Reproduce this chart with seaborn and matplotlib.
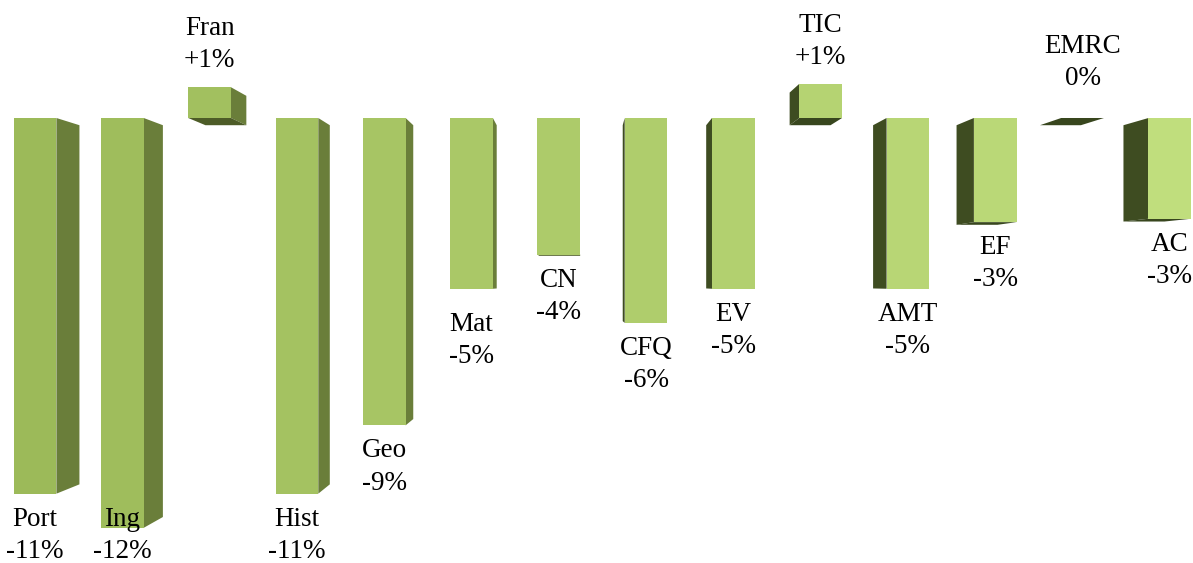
import numpy as np
import pandas as pd
import matplotlib
matplotlib.use("Agg")
import matplotlib.pyplot as plt
from matplotlib.patches import Polygon
from matplotlib.colors import to_rgb
import seaborn as sns

# data
cats = ["Port", "Ing", "Fran", "Hist", "Geo", "Mat", "CN", "CFQ", "EV",
        "TIC", "AMT", "EF", "EMRC", "AC"]
values = [-11.0, -12.0, 0.9, -11.0, -9.0, -5.0, -4.0, -6.0, -5.0,
          1.0, -5.0, -3.05, 0.0, -2.95]
value_labels = ["-11%", "-12%", "+1%", "-11%", "-9%", "-5%", "-4%", "-6%",
                "-5%", "+1%", "-5%", "-3%", "0%", "-3%"]

sns.set_theme(style="white")
plt.rcParams["font.family"] = ["Liberation Serif", "DejaVu Serif"]

df = pd.DataFrame({"disc": cats, "var": values})

# front faces get lighter from left to right
c_left = np.array(to_rgb("#9cba59"))
c_right = np.array(to_rgb("#c0de7d"))
palette = [tuple(c_left * (1 - k) + c_right * k) for k in np.linspace(0, 1, len(cats))]

fig = plt.figure(figsize=(11.93, 5.63), dpi=100)
ax = fig.add_axes([0, 0, 1, 1])
sns.barplot(data=df, x="disc", y="var", hue="disc", palette=palette,
            width=0.49, saturation=1, legend=False, linewidth=0, ax=ax, zorder=3)
ax.set_xlim(-0.401, 13.265)
ax.set_ylim(-13.03, 3.455)
ax.set_axis_off()

# fake 3d: faces pulled towards a vanishing point
vp = np.array([(580 - 35) / 87.3, -(282 - 118) / 34.15])
depth = 0.044


def back(x, y):
    p = np.array([x, y])
    return tuple(p + depth * (vp - p))


for bar in ax.patches:
    x0 = bar.get_x()
    x1 = x0 + bar.get_width()
    y0 = min(bar.get_y(), bar.get_y() + bar.get_height())
    y1 = max(bar.get_y(), bar.get_y() + bar.get_height())
    left_half = (x0 + x1) / 2 < vp[0]
    side_col = "#6a7e3a" if left_half else "#3e4c21"
    cap_col = "#4d5c27" if left_half else "#38461e"
    if x1 < vp[0]:
        ax.add_patch(Polygon([(x1, y0), (x1, y1), back(x1, y1), back(x1, y0)],
                             closed=True, color=side_col, lw=0, zorder=2))
    if x0 > vp[0]:
        ax.add_patch(Polygon([(x0, y0), (x0, y1), back(x0, y1), back(x0, y0)],
                             closed=True, color=side_col, lw=0, zorder=2))
    if y0 > vp[1]:
        ax.add_patch(Polygon([(x0, y0), (x1, y0), back(x1, y0), back(x0, y0)],
                             closed=True, color=cap_col, lw=0, zorder=2))
    if y1 < vp[1]:
        ax.add_patch(Polygon([(x0, y1), (x1, y1), back(x1, y1), back(x0, y1)],
                             closed=True, color=cap_col, lw=0, zorder=2))

# data labels (name + value) under / over each bar
label_floor = -11.0
label_shift = {"Mat": 10, "EMRC": 13}
for i, (name, v, lab) in enumerate(zip(cats, values, value_labels)):
    extra = label_shift.get(name, 0)
    if v < 0:
        ax.annotate(f"{name}\n{lab}", xy=(i, max(v, label_floor)),
                    xytext=(0, -13 - extra), textcoords="offset pixels",
                    ha="center", va="top", fontsize=19.5, linespacing=1.38,
                    color="black")
    else:
        ax.annotate(f"{name}\n{lab}", xy=(i, v),
                    xytext=(0, 14 + extra), textcoords="offset pixels",
                    ha="center", va="bottom", fontsize=19.5, linespacing=1.38,
                    color="black")

fig.savefig("out.png", dpi=100)
